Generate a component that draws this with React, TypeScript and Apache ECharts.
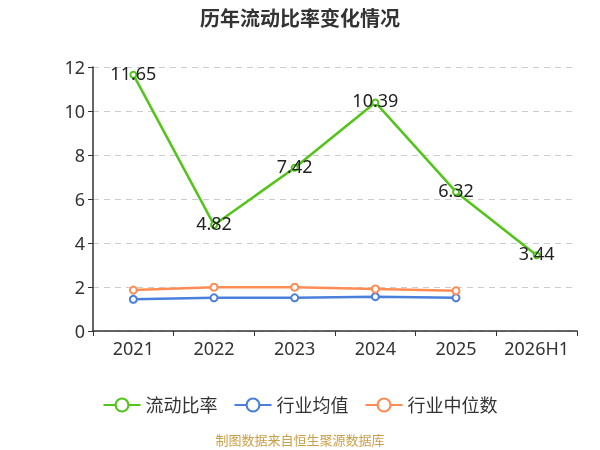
import React, { useEffect, useRef } from "react";
import * as echarts from "echarts";

const categories = ["2021", "2022", "2023", "2024", "2025", "2026H1"];
const currentRatio = [11.65, 4.82, 7.42, 10.39, 6.32, 3.44];
const industryMean = [1.44, 1.51, 1.51, 1.56, 1.51];
const industryMedian = [1.86, 1.99, 1.99, 1.91, 1.83];
const yTicks = [0, 2, 4, 6, 8, 10, 12];

const FONT = "'Noto Sans', 'Noto Sans CJK SC', sans-serif";

export default function App() {
  const ref = useRef<HTMLDivElement>(null);
  useEffect(() => {
    if (!ref.current) return;
    const chart = echarts.init(ref.current, undefined, { renderer: "svg" });
    chart.setOption({
      animation: false,
      textStyle: { fontFamily: FONT },
      title: {
        text: "历年流动比率变化情况",
        left: "center",
        top: 3,
        textStyle: { fontSize: 20, fontWeight: "bold", color: "#333", fontFamily: FONT },
      },
      grid: { left: 93, right: 23, top: 67, bottom: 119 },
      legend: {
        top: 391,
        left: "center",
        itemWidth: 37,
        itemHeight: 16,
        itemGap: 16,
        textStyle: { fontSize: 18, color: "#333", fontFamily: FONT },
        data: ["流动比率", "行业均值", "行业中位数"],
      },
      graphic: [
        {
          type: "text",
          left: "center",
          top: 433,
          style: { text: "制图数据来自恒生聚源数据库", fill: "#c9a04a", fontSize: 13, fontFamily: "'Noto Sans CJK SC', sans-serif" },
        },
      ],
      xAxis: {
        type: "category",
        data: categories,
        boundaryGap: true,
        axisLine: { lineStyle: { color: "#333", width: 1.5 } },
        axisTick: { show: true, alignWithLabel: false, lineStyle: { color: "#333" } },
        axisLabel: { fontSize: 18, color: "#333", margin: 8, interval: 0 },
      },
      yAxis: {
        type: "value",
        min: yTicks[0],
        max: yTicks[yTicks.length - 1],
        interval: 2,
        axisLine: { show: true, lineStyle: { color: "#333", width: 1.5 } },
        axisTick: { show: true, lineStyle: { color: "#333" } },
        axisLabel: { fontSize: 18, color: "#333", margin: 8 },
        splitLine: { lineStyle: { type: [6, 5], color: "#ccc" } },
      },
      series: [
        {
          name: "流动比率",
          type: "line",
          data: currentRatio,
          symbol: "emptyCircle",
          symbolSize: 6,
          itemStyle: { color: "#52c41a" },
          lineStyle: { width: 2.5, color: "#52c41a" },
          label: {
            show: true,
            position: "inside",
            offset: [0, -2],
            fontSize: 18,
            color: "#222",
            fontFamily: FONT,
          },
          z: 3,
        },
        {
          name: "行业均值",
          type: "line",
          data: industryMean,
          symbol: "emptyCircle",
          symbolSize: 7,
          itemStyle: { color: "#4a7fdc" },
          lineStyle: { width: 2.5, color: "#4a7fdc" },
        },
        {
          name: "行业中位数",
          type: "line",
          data: industryMedian,
          symbol: "emptyCircle",
          symbolSize: 7,
          itemStyle: { color: "#ff8c55" },
          lineStyle: { width: 2.5, color: "#ff8c55" },
        },
      ],
    });
    return () => chart.dispose();
  }, []);
  return (
    <div style={{ position: "fixed", left: 0, top: 0, width: 600, height: 450 }}>
      <div ref={ref} style={{ width: 600, height: 450 }} />
    </div>
  );
}
